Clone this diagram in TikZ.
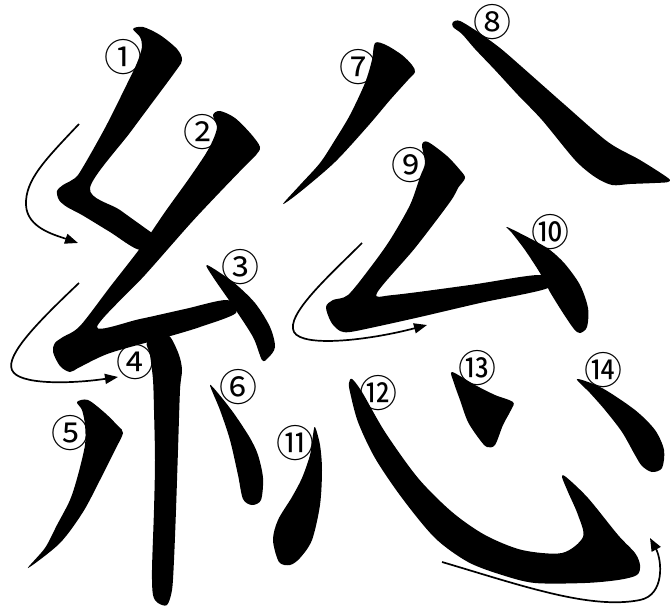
\documentclass[tikz,border=0pt]{standalone}
\usepackage{fontspec}
\usepackage{tikz}
\usetikzlibrary{arrows.meta}
\newfontfamily\cjk{Noto Sans CJK JP}
\tikzset{
  brush/.style={fill=black,smooth cycle,tension=0.5},
  num/.style={font=\cjk\fontsize{38}{38}\selectfont,inner sep=0pt},
  order/.style={line width=1.7pt,-{Triangle[length=13pt,width=10pt]}}
}

\begin{document}
\begin{tikzpicture}[x=1pt,y=-1pt]
\useasboundingbox (0,0) rectangle (670,610);

% strokes of the left part
\fill plot[brush] coordinates {(133,29) (143,27) (160,35) (177,49) (182,60) (175,72) (132,130) (90,188) (120,210) (152,233) (163,241) (140,250) (110,232) (82,215) (67,207) (59,200) (57,191) (63,185) (72,180) (80,172) (105,128) (127,84) (137,63) (142,47) (140,37)};
\fill plot[brush] coordinates {(213,115) (220,111) (235,118) (251,134) (260,147) (256,155) (247,164) (220,192) (190,224) (145,275) (97,327) (140,319) (185,309) (227,300) (236,313) (200,327) (167,337) (110,353) (80,367) (70,372) (60,366) (53,352) (55,343) (63,337) (80,326) (110,287) (141,247) (165,212) (188,180) (205,155) (213,140) (217,127)};
\fill plot[brush] coordinates {(207,265) (233,282) (255,303) (270,327) (275,347) (268,358) (262,360) (253,337) (233,306) (213,277)};
\fill plot[brush] coordinates {(147,342) (163,334) (171,338) (179,355) (182,370) (180,390) (178,450) (176,510) (174,560) (172,590) (167,605) (158,603) (153,595) (152,570) (154,510) (155,460) (154,410) (153,380) (150,355)};
\fill plot[brush] coordinates {(77,402) (88,400) (105,413) (118,426) (123,433) (115,450) (100,480) (83,512) (60,543) (28,568) (45,548) (57,525) (70,500) (78,475) (85,445) (85,425) (82,410)};
\fill plot[brush] coordinates {(210,385) (222,398) (235,415) (250,438) (258,455) (263,478) (261,500) (252,505) (243,499) (238,475) (230,440) (220,410)};

% strokes of the right part
\fill plot[brush] coordinates {(375,43) (386,45) (402,55) (412,65) (415,72) (408,80) (390,100) (368,126) (335,162) (300,192) (283,204) (300,185) (320,163) (335,140) (350,115) (365,83) (372,60)};
\fill plot[brush] coordinates {(453,22) (460,21) (478,32) (500,48) (522,67) (565,105) (608,142) (640,160) (668,178) (668,182) (655,183) (630,184) (612,185) (595,177) (575,160) (542,120) (518,95) (495,70) (475,49) (462,34) (453,27)};
\fill plot[brush] coordinates {(422,145) (428,142) (447,156) (460,170) (465,178) (458,188) (450,202) (415,248) (377,293) (393,295) (470,285) (540,275) (548,288) (480,303) (420,317) (375,327) (350,332) (340,331) (331,322) (326,307) (333,300) (348,295) (370,268) (390,240) (410,205) (420,177) (425,163)};
\fill plot[brush] coordinates {(507,227) (533,240) (550,250) (565,264) (580,285) (588,308) (587,327) (580,333) (574,329) (563,313) (550,292) (540,273) (525,250) (512,233)};
\fill plot[brush] coordinates {(315,427) (320,445) (322,470) (320,505) (312,540) (300,558) (290,565) (279,562) (273,540) (278,520) (292,497) (302,478) (310,455) (313,435)};
\fill plot[brush] coordinates {(352,379) (362,392) (385,432) (418,478) (452,512) (485,535) (522,550) (562,553) (583,537) (578,515) (568,492) (562,477) (566,477) (588,498) (618,535) (635,553) (640,565) (637,575) (618,580) (585,583) (535,583) (502,575) (468,562) (435,538) (402,498) (375,458) (358,422) (350,392) (349,383)};
\fill plot[brush] coordinates {(452,372) (475,385) (495,395) (513,402) (511,410) (503,425) (495,445) (487,447) (480,440) (468,422) (460,400) (454,383)};
\fill plot[brush] coordinates {(577,379) (602,388) (635,410) (655,430) (664,450) (662,468) (652,472) (642,466) (635,455) (622,432) (605,410) (590,393)};

% stroke numbers
\foreach \i/\c/\x/\y in {1/①/123/57, 2/②/202/132, 3/③/240/267, 4/④/135/362, 5/⑤/70/433, 6/⑥/238/387, 7/⑦/358/67, 8/⑧/492/22, 9/⑨/410/165, 10/⑩/550/232, 11/⑪/295/443, 12/⑫/378/393, 13/⑬/477/368, 14/⑭/603/370}
  \node[num] (n\i) at (\x,\y) {\c};

% direction arrows
\coordinate (a1s) at (79,124);  \coordinate (a1e) at (78,243);
\coordinate (a2s) at (79,283);  \coordinate (a2e) at (118,377);
\coordinate (a3s) at (362,243); \coordinate (a3e) at (427,325);
\coordinate (a4s) at (442,562); \coordinate (a4e) at (650,538);
\draw[order] (a1s) .. controls (45,160) and (25,180) .. (26,205) .. controls (27,228) and (55,235) .. (a1e);
\draw[order] (a2s) .. controls (40,320) and (5,355) .. (12,370) .. controls (18,385) and (70,384) .. (a2e);
\draw[order] (a3s) .. controls (330,275) and (285,315) .. (294,332) .. controls (303,348) and (370,340) .. (a3e);
\draw[order] (a4s) .. controls (520,585) and (590,610) .. (640,600) .. controls (665,595) and (662,560) .. (a4e);
\end{tikzpicture}
\end{document}
